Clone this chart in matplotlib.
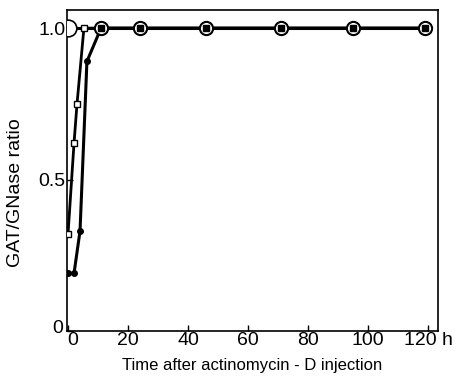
import matplotlib
matplotlib.use("Agg")
import matplotlib.pyplot as plt
import matplotlib.transforms as mtransforms
from matplotlib import font_manager

names = {f.name for f in font_manager.fontManager.ttflist}
fam = ['Liberation Sans Narrow', 'Liberation Sans', 'DejaVu Sans']
fam = [f for f in fam if f in names] or ['DejaVu Sans']
plt.rcParams['font.family'] = fam

# Data
t_control = [0, 11, 24, 46, 71, 95, 119]
r_control = [1.0, 1.0, 1.0, 1.0, 1.0, 1.0, 1.0]
t_square = [0, 2, 3, 5.3, 11, 24, 46, 71, 95, 119]
r_square = [0.32, 0.62, 0.75, 1.0, 1.0, 1.0, 1.0, 1.0, 1.0, 1.0]
t_dot = [0, 2, 4, 6.3, 11, 24, 46, 71, 95, 119]
r_dot = [0.19, 0.19, 0.33, 0.89, 1.0, 1.0, 1.0, 1.0, 1.0, 1.0]
xticks = [0, 20, 40, 60, 80, 100, 120]
xticklabels = ['0', '20', '40', '60', '80', '100', '120 h']
yticks = [0, 0.5, 1.0]
yticklabels = ['0', '0.5', '1.0']

fig = plt.figure(figsize=(4.56, 3.83), dpi=100)
ax = fig.add_axes([0.147, 0.136, 0.8135, 0.838])

ax.plot(t_control, r_control, '-', color='black', lw=2.2, zorder=2)
ax.plot(t_control[1:], r_control[1:], 'o', mfc='white', mec='black', mew=1.5, ms=9.5, zorder=3)
ax.plot(t_control[:1], r_control[:1], 'o', mfc='white', mec='black', mew=1.2, ms=12, zorder=6)
ax.plot(t_square, r_square, '-', color='black', lw=2, zorder=2)
ax.plot(t_square, r_square, 's', mfc='white', mec='black', mew=1.0, ms=5, zorder=4, ls='none')
ax.plot(t_dot, r_dot, '-', color='black', lw=2.2, zorder=2)
ax.plot(t_dot, r_dot, 'o', color='black', ms=4, zorder=5, ls='none')

ax.set_xlim(-0.33, 123.3)
ax.set_ylim(0, 1.06)
ax.set_xticks(xticks)
ax.set_xticklabels(xticklabels, fontsize=14)
ax.set_yticks(yticks)
ax.set_yticklabels(yticklabels, fontsize=14)
ax.tick_params(direction='in', length=4, width=1, pad=1)
for s in ax.spines.values():
    s.set_linewidth(1.2)

# nudge the two "0" labels apart like the original
xl0 = ax.get_xticklabels()[0]
xl0.set_horizontalalignment('left')
xl0.set_transform(xl0.get_transform() + mtransforms.ScaledTranslation(-1/100, 0, fig.dpi_scale_trans))
yl0 = ax.get_yticklabels()[0]
yl0.set_transform(yl0.get_transform() + mtransforms.ScaledTranslation(-3/100, 4/100, fig.dpi_scale_trans))

ax.set_xlabel('Time after actinomycin - D injection', fontsize=12, labelpad=6)
fig.text(16/456, 1 - 193/383, 'GAT/GNase ratio', fontsize=14, rotation=90,
         ha='center', va='center')

fig.savefig('out.png', dpi=100)
